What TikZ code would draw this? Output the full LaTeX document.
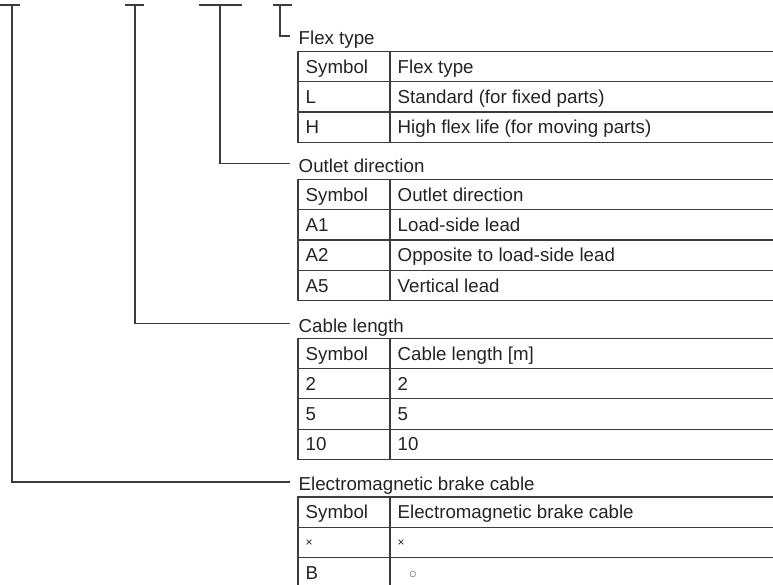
\documentclass[tikz,border=0pt]{standalone}
\usepackage{fontspec}
\setmainfont{Liberation Sans}
\newfontfamily\symfont{DejaVu Sans}
\definecolor{ln}{RGB}{60,60,60}
\definecolor{tx}{RGB}{35,35,35}
\newcommand\tabrow[4]{%
  \draw[rule] (298,#2) rectangle (790,#2+30.3);
  \draw[rule] (390,#2) -- (390,#2+30.3);
  \node[cell] (#1s) at (298,#2+15.15) {#3};
  \node[cell] (#1d) at (390,#2+15.15) {#4};
}
\newcommand\smx{\raisebox{2.6pt}{\fontsize{12}{12}\selectfont ×}}
\newcommand\smo{\hspace{12pt}\raisebox{3.2pt}{\symfont\fontsize{7.5}{8}\selectfont ○}}
\begin{document}
\begin{tikzpicture}[x=1pt,y=-1pt,
  lbl/.style={anchor=west,inner xsep=8.5pt,inner ysep=0pt,text height=17.6pt,text depth=0pt,font=\fontsize{18.7}{22}\selectfont,text=tx},
  cell/.style={anchor=west,inner xsep=7.5pt,inner ysep=0pt,text height=13.4pt,text depth=0pt,font=\fontsize{18.7}{22}\selectfont,text=tx},
  rule/.style={draw=ln,line width=1.2pt}]
\useasboundingbox (0,0) rectangle (773,585);

% code position marks
\coordinate (t1) at (12,5);
\coordinate (t2) at (135,5);
\coordinate (t3) at (220,5);
\coordinate (t4) at (280,5);
\draw[rule] (0,5) -- (20,5);
\draw[rule] (125,5) -- (144,5);
\draw[rule] (199,5) -- (242,5);
\draw[rule] (273,5) -- (292,5);

% labels
\node[lbl] (lab1) at (290,36) {Flex type};
\node[lbl] (lab2) at (290,163.3) {Outlet direction};
\node[lbl] (lab3) at (290,323.3) {Cable length};
\node[lbl] (lab4) at (290,482) {Electromagnetic brake cable};

% connectors
\draw[rule] (t4) |- (lab1.west);
\draw[rule] (t3) |- (lab2.west);
\draw[rule] (t2) |- (lab3.west);
\draw[rule] (t1) |- (lab4.west);

% table: flex type
\tabrow{fa}{51.5}{Symbol}{Flex type}
\tabrow{fb}{81.8}{L}{Standard (for fixed parts)}
\tabrow{fc}{112.1}{H}{High flex life (for moving parts)}

% table: outlet direction
\tabrow{oa}{179.4}{Symbol}{Outlet direction}
\tabrow{ob}{209.7}{A1}{Load-side lead}
\tabrow{oc}{240.0}{A2}{Opposite to load-side lead}
\tabrow{od}{270.3}{A5}{Vertical lead}

% table: cable length
\tabrow{ca}{338.2}{Symbol}{Cable length [m]}
\tabrow{cb}{368.5}{2}{2}
\tabrow{cc}{398.8}{5}{5}
\tabrow{cd}{429.1}{10}{10}

% table: brake cable
\tabrow{ea}{497.0}{Symbol}{Electromagnetic brake cable}
\tabrow{eb}{527.3}{\smx}{\smx}
\tabrow{ec}{557.6}{B}{\smo}
\end{tikzpicture}
\end{document}
